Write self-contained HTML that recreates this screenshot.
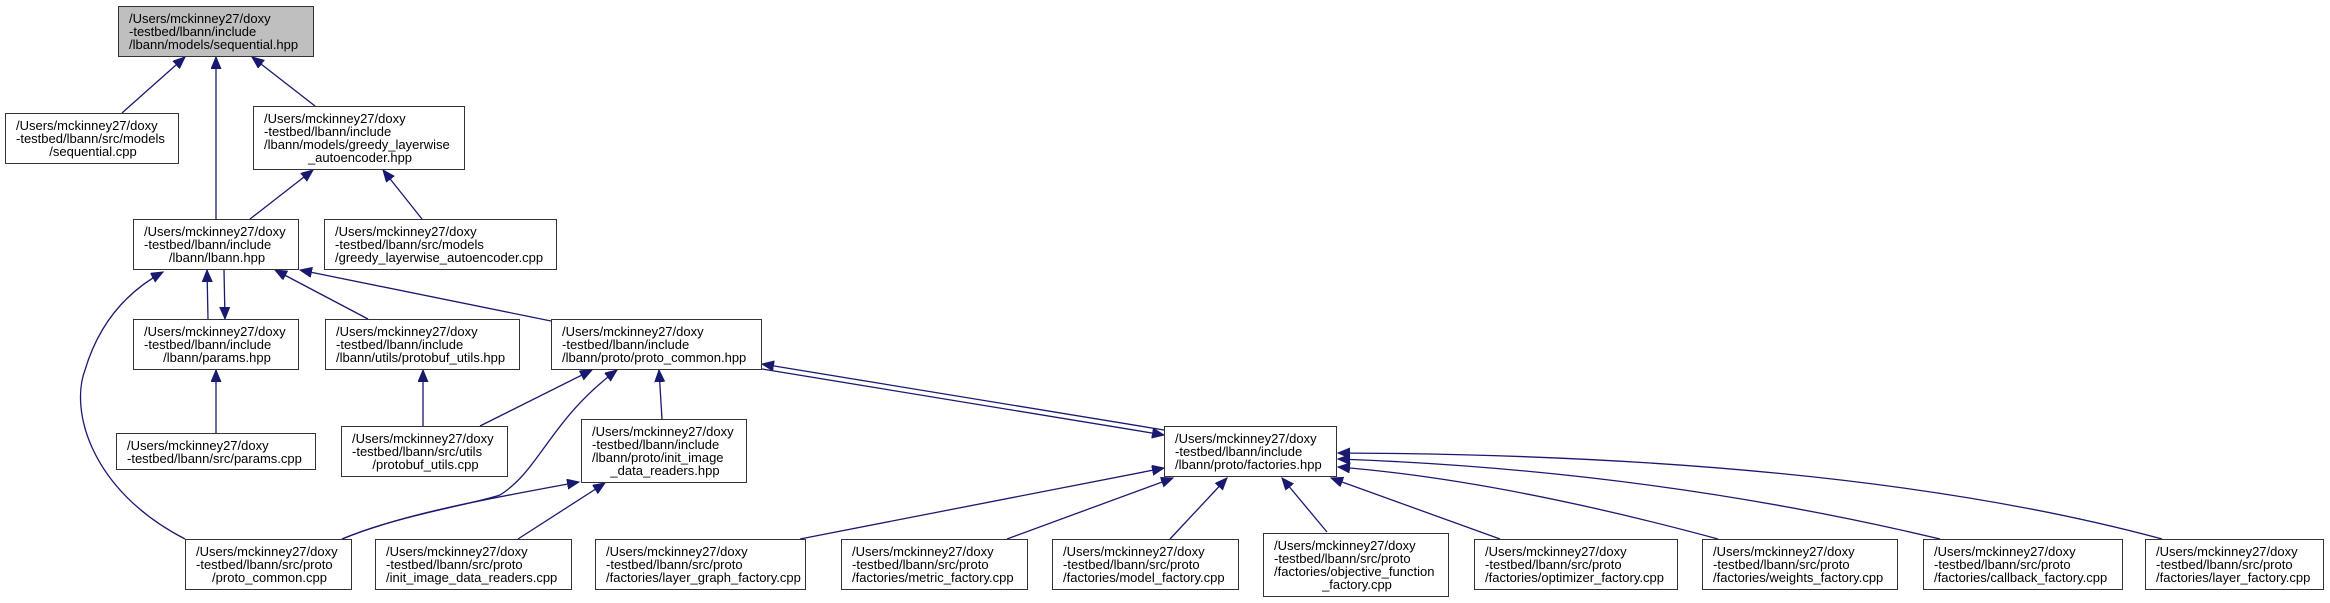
<!DOCTYPE html>
<html><head><meta charset="utf-8"><style>
html,body{margin:0;padding:0;background:#fff;}
body{width:2330px;height:603px;position:relative;overflow:hidden;font-family:"Liberation Sans",Arial,sans-serif;}
.n{position:absolute;box-sizing:border-box;border:1.5px solid #333;background:#fff;font-size:13px;line-height:13px;color:#000;display:flex;flex-direction:column;justify-content:center;padding:0 8px 0 10px;white-space:nowrap;}
.n .c{text-align:center;}
.g{background:#bfbfbf;}
svg{position:absolute;left:0;top:0;}
</style></head><body>
<svg width="2330" height="603" viewBox="0 0 2330 603">
<defs><marker id="a" markerUnits="userSpaceOnUse" markerWidth="14" markerHeight="12" refX="12" refY="5" orient="auto"><path d="M0,0 L12,5 L0,10 Z" fill="#191970" stroke="#191970"/></marker></defs>
<g fill="none" stroke="#191970" stroke-width="1.3" marker-end="url(#a)">
<path d="M122,113 L185,57"/>
<path d="M216,219 L216,57"/>
<path d="M315,106 L252,57"/>
<path d="M250,219 L313,170"/>
<path d="M422,219 L383,170"/>
<path d="M208,319 L207,270"/>
<path d="M224,270 L225,319"/>
<path d="M368,319 L275,270"/>
<path d="M551,321 L300,270"/>
<path d="M185,539 C90,490 70,410 85,370 C100,320 130,290 163,272"/>
<path d="M216,433 L216,370"/>
<path d="M423,426 L423,370"/>
<path d="M480,426 L592,370"/>
<path d="M342,539 C400,515 470,505 500,495 C540,470 550,420 617,370"/>
<path d="M662,419 L659,370"/>
<path d="M342,539 C400,515 480,500 579,482"/>
<path d="M518,539 L605,483"/>
<path d="M762,369 L1164,435"/>
<path d="M1164,430 L762,364"/>
<path d="M800,539 L1164,468"/>
<path d="M1007,539 L1173,478"/>
<path d="M1170,539 L1227,478"/>
<path d="M1327,532 L1282,478"/>
<path d="M1500,539 L1331,478"/>
<path d="M1718,539 Q1500,480 1338,467"/>
<path d="M1940,539 Q1650,470 1338,459"/>
<path d="M2162,539 Q1850,455 1338,453"/>
</g>
</svg>
<div class="n g" style="left:118px;top:6px;width:196px;height:51px"><div>/Users/mckinney27/doxy</div><div>-testbed/lbann/include</div><div>/lbann/models/sequential.hpp</div></div>
<div class="n" style="left:5px;top:113px;width:174px;height:51px"><div>/Users/mckinney27/doxy</div><div>-testbed/lbann/src/models</div><div class="c">/sequential.cpp</div></div>
<div class="n" style="left:253px;top:106px;width:212px;height:64px"><div>/Users/mckinney27/doxy</div><div>-testbed/lbann/include</div><div>/lbann/models/greedy_layerwise</div><div class="c">_autoencoder.hpp</div></div>
<div class="n" style="left:133px;top:219px;width:166px;height:51px"><div>/Users/mckinney27/doxy</div><div>-testbed/lbann/include</div><div class="c">/lbann/lbann.hpp</div></div>
<div class="n" style="left:324px;top:219px;width:233px;height:51px"><div>/Users/mckinney27/doxy</div><div>-testbed/lbann/src/models</div><div>/greedy_layerwise_autoencoder.cpp</div></div>
<div class="n" style="left:133px;top:319px;width:166px;height:51px"><div>/Users/mckinney27/doxy</div><div>-testbed/lbann/include</div><div class="c">/lbann/params.hpp</div></div>
<div class="n" style="left:325px;top:319px;width:195px;height:51px"><div>/Users/mckinney27/doxy</div><div>-testbed/lbann/include</div><div>/lbann/utils/protobuf_utils.hpp</div></div>
<div class="n" style="left:551px;top:319px;width:211px;height:51px"><div>/Users/mckinney27/doxy</div><div>-testbed/lbann/include</div><div>/lbann/proto/proto_common.hpp</div></div>
<div class="n" style="left:116px;top:433px;width:200px;height:37px"><div>/Users/mckinney27/doxy</div><div>-testbed/lbann/src/params.cpp</div></div>
<div class="n" style="left:341px;top:426px;width:167px;height:51px"><div>/Users/mckinney27/doxy</div><div>-testbed/lbann/src/utils</div><div class="c">/protobuf_utils.cpp</div></div>
<div class="n" style="left:581px;top:419px;width:166px;height:64px"><div>/Users/mckinney27/doxy</div><div>-testbed/lbann/include</div><div>/lbann/proto/init_image</div><div class="c">_data_readers.hpp</div></div>
<div class="n" style="left:1164px;top:426px;width:173px;height:51px"><div>/Users/mckinney27/doxy</div><div>-testbed/lbann/include</div><div>/lbann/proto/factories.hpp</div></div>
<div class="n" style="left:185px;top:539px;width:167px;height:51px"><div>/Users/mckinney27/doxy</div><div>-testbed/lbann/src/proto</div><div class="c">/proto_common.cpp</div></div>
<div class="n" style="left:375px;top:539px;width:197px;height:51px"><div>/Users/mckinney27/doxy</div><div>-testbed/lbann/src/proto</div><div>/init_image_data_readers.cpp</div></div>
<div class="n" style="left:595px;top:539px;width:211px;height:51px"><div>/Users/mckinney27/doxy</div><div>-testbed/lbann/src/proto</div><div>/factories/layer_graph_factory.cpp</div></div>
<div class="n" style="left:841px;top:539px;width:187px;height:51px"><div>/Users/mckinney27/doxy</div><div>-testbed/lbann/src/proto</div><div>/factories/metric_factory.cpp</div></div>
<div class="n" style="left:1052px;top:539px;width:187px;height:51px"><div>/Users/mckinney27/doxy</div><div>-testbed/lbann/src/proto</div><div>/factories/model_factory.cpp</div></div>
<div class="n" style="left:1263px;top:533px;width:186px;height:64px"><div>/Users/mckinney27/doxy</div><div>-testbed/lbann/src/proto</div><div>/factories/objective_function</div><div class="c">_factory.cpp</div></div>
<div class="n" style="left:1474px;top:539px;width:204px;height:51px"><div>/Users/mckinney27/doxy</div><div>-testbed/lbann/src/proto</div><div>/factories/optimizer_factory.cpp</div></div>
<div class="n" style="left:1702px;top:539px;width:196px;height:51px"><div>/Users/mckinney27/doxy</div><div>-testbed/lbann/src/proto</div><div>/factories/weights_factory.cpp</div></div>
<div class="n" style="left:1923px;top:539px;width:200px;height:51px"><div>/Users/mckinney27/doxy</div><div>-testbed/lbann/src/proto</div><div>/factories/callback_factory.cpp</div></div>
<div class="n" style="left:2145px;top:539px;width:179px;height:51px"><div>/Users/mckinney27/doxy</div><div>-testbed/lbann/src/proto</div><div>/factories/layer_factory.cpp</div></div>
</body></html>
